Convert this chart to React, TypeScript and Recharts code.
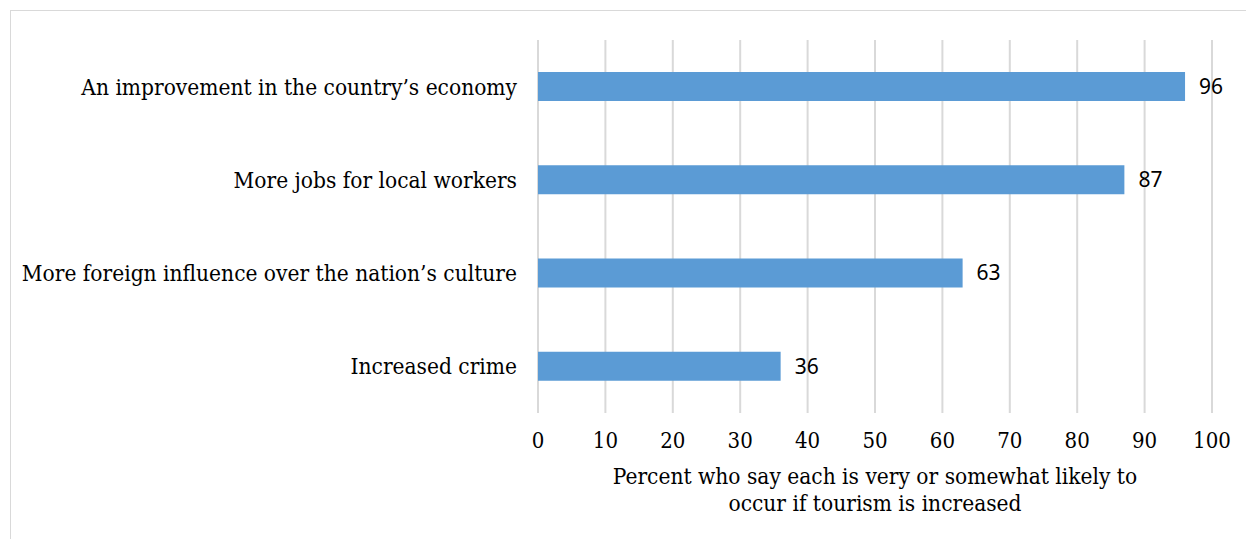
import React from "react";
import { BarChart, Bar, XAxis, YAxis, CartesianGrid, LabelList } from "recharts";

const categories = [
  "An improvement in the country’s economy",
  "More jobs for local workers",
  "More foreign influence over the nation’s culture",
  "Increased crime",
];
const values = [96, 87, 63, 36];
const xTicks = [0, 10, 20, 30, 40, 50, 60, 70, 80, 90, 100];
const axisTitle = [
  "Percent who say each is very or somewhat likely to",
  "occur if tourism is increased",
];

const data = categories.map((c, i) => ({ name: c, value: values[i] }));

const SERIF = "'DejaVu Serif Condensed', 'DejaVu Serif', serif";

const AxisTitle = (props: any) => {
  const vb = props.viewBox || {};
  const cx = vb.x + vb.width / 2;
  const y0 = vb.y + 71;
  return (
    <g>
      {axisTitle.map((t, i) => (
        <text
          key={i}
          x={cx}
          y={y0 + i * 27}
          textAnchor="middle"
          fontFamily={SERIF}
          fontSize={22.5}
          fill="#000"
        >
          {t}
        </text>
      ))}
    </g>
  );
};

export default function App() {
  return (
    <div style={{ position: "relative", width: 1246, height: 531 }}>
      <div
        style={{
          position: "absolute",
          left: 2,
          top: 2,
          width: 1260,
          height: 540,
          borderTop: "1.5px solid #d9d9d9",
          borderLeft: "1.5px solid #d9d9d9",
          boxSizing: "border-box",
        }}
      />
      <BarChart
        layout="vertical"
        width={1246}
        height={531}
        data={data}
        margin={{ top: 32, right: 42, bottom: 16, left: 0 }}
        style={{ position: "absolute", left: 0, top: 0 }}
      >
        <CartesianGrid horizontal={false} stroke="#d9d9d9" strokeWidth={2} />
        <XAxis
          type="number"
          domain={[0, 100]}
          ticks={xTicks}
          interval={0}
          axisLine={false}
          tickLine={false}
          tickMargin={13}
          height={110}
          tick={{ fill: "#000", fontSize: 22, fontFamily: SERIF }}
          label={<AxisTitle />}
        />
        <YAxis
          type="category"
          dataKey="name"
          width={530}
          axisLine={false}
          tickLine={false}
          tickMargin={15}
          tick={{ fill: "#000", fontSize: 22.5, fontFamily: SERIF }}
        />
        <Bar dataKey="value" fill="#5b9bd5" barSize={29} isAnimationActive={false}>
          <LabelList
            dataKey="value"
            position="right"
            offset={14}
            fill="#000"
            fontSize={21}
            fontFamily="'Noto Sans', sans-serif"
          />
        </Bar>
      </BarChart>
    </div>
  );
}
